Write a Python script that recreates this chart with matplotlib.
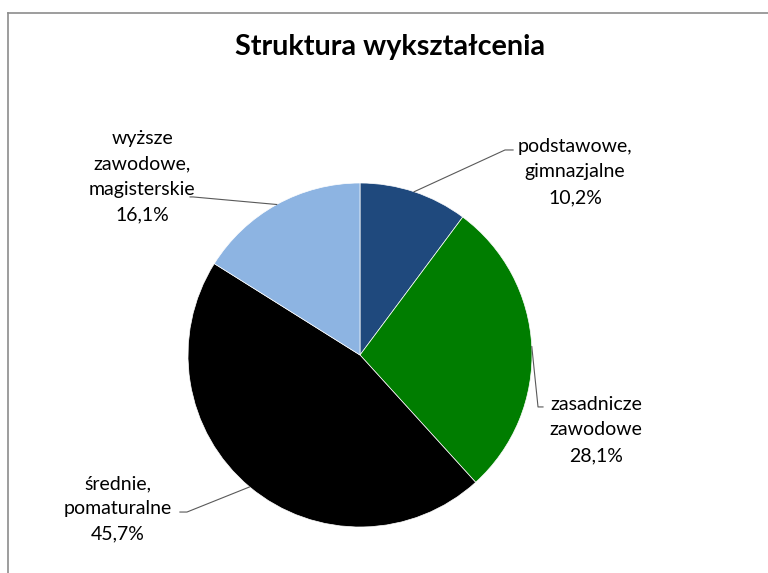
import numpy as np
import matplotlib
matplotlib.use("Agg")
import matplotlib.pyplot as plt
from matplotlib.lines import Line2D

# data
categories = ["podstawowe,\ngimnazjalne", "zasadnicze\nzawodowe",
              "średnie,\npomaturalne", "wyższe\nzawodowe,\nmagisterskie"]
shares = [10.2, 28.1, 45.7, 16.1]
colors = ["#1F497D", "#007D00", "#000000", "#8DB4E2"]

# label layout (data units, pie radius = 1): elbow, line end, text centre
elbows = [(0.843, 1.192), (1.035, -0.302), (-1.006, -0.913), (-0.971, 0.919)]
ends = [(0.890, 1.192), (1.064, -0.302), (-1.047, -0.913), (-0.988, 0.919)]
texts = [(1.250, 1.064), (1.372, -0.436), (-1.407, -0.895), (-1.267, 1.035)]

W, H = 768, 573
plt.rcParams['font.family'] = ['Lato', 'DejaVu Sans']
fig = plt.figure(figsize=(W / 100, H / 100), dpi=100)

# chart frame (only left and top edges visible in the crop)
fig.add_artist(Line2D([7.5 / W, 7.5 / W], [0, 1 - 12.5 / H], transform=fig.transFigure,
                      color="#8c8c8c", lw=1.2))
fig.add_artist(Line2D([7.5 / W, 1], [1 - 12.5 / H, 1 - 12.5 / H], transform=fig.transFigure,
                      color="#8c8c8c", lw=1.2))

fig.text(390 / W, 1 - 47 / H, "Struktura wykształcenia", ha="center", va="center",
         fontsize=20.7, fontweight="bold")

cx, cy, r = 360, 355, 172
ax = fig.add_axes([(cx - r) / W, 1 - (cy + r) / H, 2 * r / W, 2 * r / H])
wedges, _ = ax.pie(shares, colors=colors, startangle=90, counterclock=False,
                   wedgeprops=dict(edgecolor="white", linewidth=0.5))
ax.set_xlim(-1, 1)
ax.set_ylim(-1, 1)
ax.set_aspect("equal")
ax.axis("off")

for w, cat, val, el, en, tx in zip(wedges, categories, shares, elbows, ends, texts):
    mid = np.deg2rad((w.theta1 + w.theta2) / 2)
    px, py = np.cos(mid), np.sin(mid)
    ax.plot([px, el[0], en[0]], [py, el[1], en[1]], color="#595959", lw=0.8,
            clip_on=False)
    label = cat + "\n" + f"{val:.1f}%".replace(".", ",")
    ax.text(tx[0], tx[1], label, ha="center", va="center", fontsize=14,
            linespacing=1.6, clip_on=False)

fig.savefig("out.png", dpi=100)
